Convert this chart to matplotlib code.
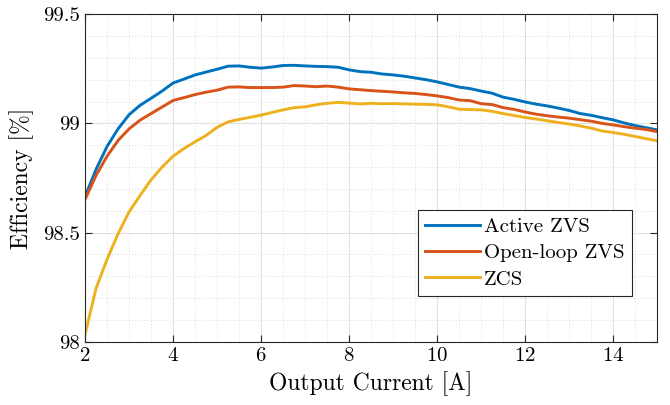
import numpy as np
import matplotlib
matplotlib.use("Agg")
import matplotlib.pyplot as plt
from matplotlib.ticker import MultipleLocator, FixedLocator, FixedFormatter

# Efficiency vs output current, three switching schemes

current = [2.0, 2.25, 2.5, 2.75, 3.0, 3.25, 3.5, 3.75, 4.0, 4.25, 4.5, 4.75,
           5.0, 5.25, 5.5, 5.75, 6.0, 6.25, 6.5, 6.75, 7.0, 7.25, 7.5, 7.75,
           8.0, 8.25, 8.5, 8.75, 9.0, 9.25, 9.5, 9.75, 10.0, 10.25, 10.5, 10.75,
           11.0, 11.25, 11.5, 11.75, 12.0, 12.25, 12.5, 12.75, 13.0, 13.25, 13.5,
           13.75, 14.0, 14.25, 14.5, 14.75, 15.0]

active_zvs = [98.665, 98.79, 98.895, 98.975, 99.04, 99.083, 99.115, 99.148,
              99.185, 99.203, 99.222, 99.235, 99.248, 99.262, 99.263, 99.257,
              99.253, 99.258, 99.265, 99.266, 99.263, 99.261, 99.26, 99.257,
              99.245, 99.237, 99.234, 99.226, 99.222, 99.216, 99.208, 99.2,
              99.19, 99.178, 99.166, 99.159, 99.148, 99.138, 99.12, 99.11,
              99.098, 99.088, 99.08, 99.07, 99.059, 99.045, 99.037, 99.026,
              99.016, 99.002, 98.99, 98.98, 98.97]

open_loop_zvs = [98.652, 98.762, 98.85, 98.922, 98.975, 99.015, 99.045, 99.075,
                 99.105, 99.118, 99.132, 99.143, 99.152, 99.166, 99.167, 99.164,
                 99.164, 99.164, 99.166, 99.173, 99.171, 99.168, 99.171, 99.166,
                 99.158, 99.154, 99.15, 99.147, 99.144, 99.14, 99.137, 99.132,
                 99.126, 99.118, 99.107, 99.104, 99.09, 99.086, 99.072, 99.064,
                 99.052, 99.042, 99.035, 99.029, 99.024, 99.017, 99.01, 99.0,
                 98.993, 98.985, 98.978, 98.972, 98.962]

zcs = [98.035, 98.245, 98.378, 98.495, 98.595, 98.67, 98.742, 98.8,
       98.85, 98.885, 98.916, 98.945, 98.982, 99.007, 99.018, 99.028,
       99.038, 99.05, 99.062, 99.072, 99.076, 99.085, 99.092, 99.096,
       99.093, 99.089, 99.092, 99.09, 99.091, 99.089, 99.088, 99.087,
       99.085, 99.076, 99.065, 99.063, 99.062, 99.055, 99.045, 99.036,
       99.027, 99.02, 99.012, 99.004, 98.997, 98.988, 98.978, 98.965,
       98.958, 98.95, 98.94, 98.93, 98.92]

series_names = ["Active ZVS", "Open-loop ZVS", "ZCS"]
x_ticks = [2, 4, 6, 8, 10, 12, 14]
y_ticks = [98, 98.5, 99, 99.5]
y_tick_labels = ["98", "98.5", "99", "99.5"]

plt.rcParams["font.family"] = "cmr10"
plt.rcParams["mathtext.fontset"] = "cm"
plt.rcParams["axes.formatter.use_mathtext"] = True

fig = plt.figure(figsize=(6.7, 4.05), dpi=100)
ax = fig.add_axes([0.127, 0.156, 0.854, 0.809])

colors = ["#0072BD", "#D95319", "#EDB120"]
for vals, name, c in zip([active_zvs, open_loop_zvs, zcs], series_names, colors):
    ax.plot(current, vals, color=c, lw=2.1, label=name)

ax.set_xlim(2, 15)
ax.set_ylim(98, 99.5)
ax.xaxis.set_major_locator(FixedLocator(x_ticks))
ax.yaxis.set_major_locator(FixedLocator(y_ticks))
ax.yaxis.set_major_formatter(FixedFormatter(y_tick_labels))
ax.xaxis.set_minor_locator(MultipleLocator(0.5))
ax.yaxis.set_minor_locator(MultipleLocator(0.1))

ax.grid(which="major", color="#e0e0e0", lw=0.8, ls="-")
ax.grid(which="minor", color="#dcdcdc", lw=0.7, ls=(0, (1, 2)))
ax.set_axisbelow(True)

ax.tick_params(which="major", direction="in", length=5, width=0.8,
               top=True, right=True, labelsize=15, colors="#262626",
               labelcolor="black", pad=4)
ax.tick_params(which="minor", length=0, top=True, right=True)
for s in ax.spines.values():
    s.set_color("#262626")
    s.set_linewidth(0.8)

ax.set_xlabel("Output Current [A]", fontsize=17, labelpad=4)
ax.set_ylabel("Efficiency [%]", fontsize=17, labelpad=6)

leg = ax.legend(loc="lower right", bbox_to_anchor=(0.955, 0.14), fontsize=15,
                fancybox=False, framealpha=1, edgecolor="#262626",
                handlelength=2.6, handletextpad=0.2, borderpad=0.35,
                labelspacing=0.37, borderaxespad=0)
leg.get_frame().set_linewidth(0.8)

fig.savefig("out.png", dpi=100)
